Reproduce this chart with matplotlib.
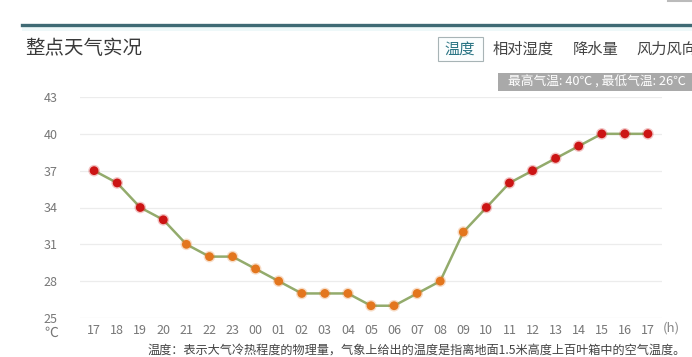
import matplotlib.pyplot as plt
from matplotlib.patches import Rectangle
from matplotlib.lines import Line2D

plt.rcParams['font.family'] = ['Noto Sans CJK SC', 'DejaVu Sans']

# hourly readings, 17:00 yesterday -> 17:00 today
hours = ["17", "18", "19", "20", "21", "22", "23", "00", "01", "02", "03", "04",
         "05", "06", "07", "08", "09", "10", "11", "12", "13", "14", "15", "16", "17"]
temps = [37, 36, 34, 33, 31, 30, 30, 29, 28, 27, 27, 27,
         26, 26, 27, 28, 32, 34, 36, 37, 38, 39, 40, 40, 40]
yticks = [25, 28, 31, 34, 37, 40, 43]
tabs = ["温度", "相对湿度", "降水量", "风力风向"]
tab_x = [438, 493, 573, 636]

W, H = 692, 357
fig = plt.figure(figsize=(W / 100, H / 100), dpi=100)

def fx(px):
    return px / W

def fy(py):
    return 1 - py / H

# header strip
fig.add_artist(Rectangle((fx(22), fy(31)), 1, 5 / H, transform=fig.transFigure,
                         facecolor="#eef8f9", edgecolor="none"))
fig.add_artist(Line2D([fx(22), 1], [fy(25), fy(25)], transform=fig.transFigure,
                      color="#3f6a74", lw=2.4))
fig.add_artist(Line2D([fx(668), 1], [fy(1), fy(1)], transform=fig.transFigure,
                      color="#bbbbbb", lw=1.5))
fig.text(fx(25), fy(49), "整点天气实况", fontsize=14, color="#3a3a3a", va="center")

# tabs
fig.add_artist(Rectangle((fx(438), fy(61)), 45 / W, 24 / H, transform=fig.transFigure,
                         facecolor="#fbfefe", edgecolor="#a8b4b6", lw=0.8))
for i, (t, x) in enumerate(zip(tabs, tab_x)):
    fig.text(fx(x + (6 if i == 0 else 0)), fy(49), t, fontsize=11,
             color="#2a7584" if i == 0 else "#444444", va="center")

# max / min badge
fig.add_artist(Rectangle((fx(498), fy(91)), 1, 18 / H, transform=fig.transFigure,
                         facecolor="#a9a9a9", edgecolor="none"))
fig.text(fx(508), fy(82), "最高气温: %d℃ , 最低气温: %d℃" % (max(temps), min(temps)),
         fontsize=9.2, color="white", va="center")

# chart
ax = fig.add_axes([fx(80), fy(318), (662 - 80) / W, (318 - 97) / H])
x = list(range(len(hours)))
ax.plot(x, temps, color="#93ab6c", lw=1.8, zorder=2)
colors = ["#cc1414" if t >= 33 else "#e3761e" for t in temps]
ax.scatter(x, temps, s=70, c=colors, alpha=0.25, linewidths=0, zorder=3)
ax.scatter(x, temps, s=40, c=colors, linewidths=0, zorder=4)

ax.set_xlim(-0.61, 24.61)
ax.set_ylim(25, 43)
ax.set_yticks(yticks)
ax.set_xticks(x)
ax.set_xticklabels(hours)
for s in ax.spines.values():
    s.set_visible(False)
ax.grid(axis="y", color="#ececec", lw=0.9)
ax.set_axisbelow(True)
ax.tick_params(axis="both", length=0, labelsize=9, labelcolor="#777777")
ax.tick_params(axis="y", pad=16)
ax.tick_params(axis="x", pad=4)

fig.text(fx(671), fy(328), "(h)", fontsize=9.5, color="#888888", ha="center", va="center")
fig.text(fx(51), fy(333), "℃", fontsize=10, color="#777777", ha="center", va="center")

fig.text(fx(148), fy(350),
         "温度：表示大气冷热程度的物理量，气象上给出的温度是指离地面1.5米高度上百叶箱中的空气温度。",
         fontsize=8.75, color="#444444", ha="left", va="center")

fig.savefig("out.png", dpi=100)
